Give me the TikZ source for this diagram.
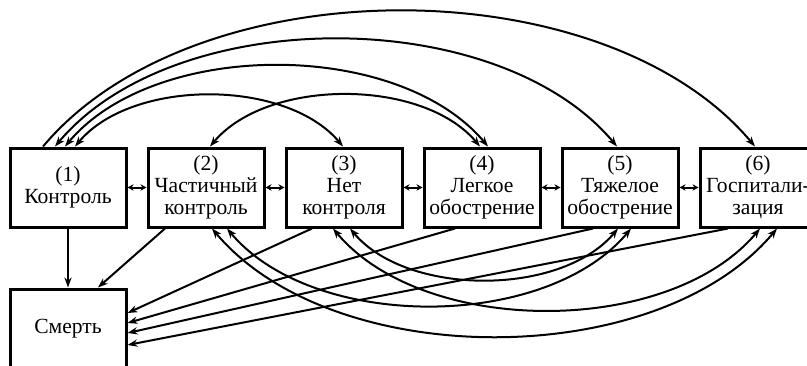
\documentclass[tikz,border=0pt]{standalone}
\usepackage{fontspec}
\setmainfont{Liberation Serif}
\usetikzlibrary{arrows.meta}

\begin{document}
\begin{tikzpicture}[x=0.5pt,y=0.5pt,
  state/.style={draw,line width=1.5pt,minimum width=58pt,minimum height=39.5pt,
    inner sep=0pt,align=center,font=\fontsize{10.8}{11}\selectfont},
  flow/.style={line width=1pt,-{Stealth[length=5pt,width=3.6pt]}},
  both/.style={line width=1pt,{Stealth[length=5pt,width=3.6pt]}-{Stealth[length=5pt,width=3.6pt]}},
  near/.style={line width=1pt,{Stealth[length=3pt,width=3.2pt]}-{Stealth[length=3pt,width=3.2pt]}},
  over/.style={out=50,in=130,looseness=0.85},
  under/.style={out=-50,in=-130,looseness=0.85}]
\clip (0,0) rectangle (807,365);

\node[state] (s1) at (68,177.5) {(1)\\Контроль};
\node[state] (s2) at (206,177.5) {(2)\\Частичный\\контроль};
\node[state] (s3) at (344,177.5) {(3)\\Нет\\контроля};
\node[state] (s4) at (482,177.5) {(4)\\Легкое\\обострение};
\node[state] (s5) at (620,177.5) {(5)\\Тяжелое\\обострение};
\node[state] (s6) at (758,177.5) {(6)\\Госпитали-\\зация};
\node[state] (death) at (68,36.5) {Смерть};

\draw[near] (s1) -- (s2);
\draw[near] (s2) -- (s3);
\draw[near] (s3) -- (s4);
\draw[near] (s4) -- (s5);
\draw[near] (s5) -- (s6);

% arcs above the row
\draw[flow] ([shift={(-25,0)}]s1.north) to[over] ([shift={(-3,0)}]s6.north);
\draw[both] ([shift={(-13,0)}]s1.north) to[over] ([shift={(-3,0)}]s5.north);
\draw[both] ([shift={(-3,0)}]s1.north) to[over] ([shift={(6,0)}]s4.north);
\draw[both] ([shift={(7,0)}]s1.north) to[over] ([shift={(-1,0)}]s3.north);
\draw[both] ([shift={(4,0)}]s2.north) to[over] ([shift={(-2,0)}]s4.north);

% arcs below the row
\draw[both] ([shift={(6,0)}]s2.south) to[under] ([shift={(19,0)}]s6.south);
\draw[both] ([shift={(21,0)}]s2.south) to[under] ([shift={(11,0)}]s5.south);
\draw[both] ([shift={(-11,0)}]s3.south) to[under] ([shift={(2,0)}]s6.south);
\draw[both] ([shift={(6,0)}]s3.south) to[under] ([shift={(-2,0)}]s5.south);

% to death
\draw[flow] (s1) -- (death);
\draw[flow] ([shift={(-41,0)}]s2.south) -- ([shift={(30,0)}]death.north);
\draw[flow] ([shift={(-32,0)}]s3.south) -- ([shift={(0,15.5)}]death.east);
\draw[flow] ([shift={(-27,0)}]s4.south) -- ([shift={(0,5.5)}]death.east);
\draw[flow] ([shift={(-27,0)}]s5.south) -- ([shift={(0,-4.5)}]death.east);
\draw[flow] ([shift={(-30,0)}]s6.south) -- ([shift={(0,-16.5)}]death.east);
\end{tikzpicture}
\end{document}
